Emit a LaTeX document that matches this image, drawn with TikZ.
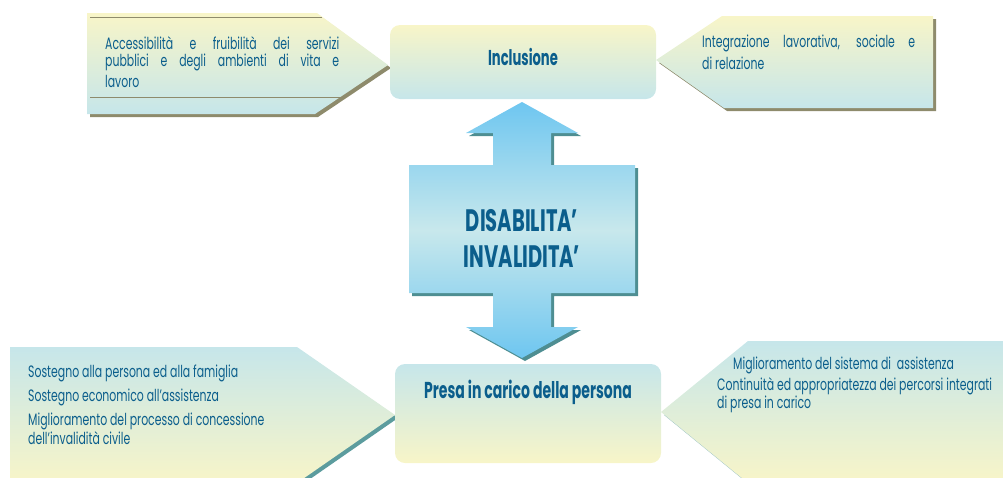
\documentclass[tikz,border=0pt]{standalone}
\usepackage{fontspec}
\setmainfont{Poppins}[FakeStretch=0.66]
\newfontfamily\titlefont{Poppins}[FakeStretch=0.61]
\newfontfamily\bigfont{Poppins}[FakeStretch=0.63]
\definecolor{cyel}{HTML}{F8F5C8}
\definecolor{ccya}{HTML}{C6E6EA}
\definecolor{ctxt}{HTML}{0B5E8C}
\definecolor{colive}{HTML}{8E8B6C}
\definecolor{cteal}{HTML}{5C9C9E}
\definecolor{ablue}{HTML}{6EC6F0}
\definecolor{apale}{HTML}{C8E8EC}
\definecolor{ashad}{HTML}{4E8E92}
\tikzset{
  txt/.style={anchor=west, inner sep=0pt, text=ctxt, font=\fontsize{16.5}{18}\selectfont},
  ttl/.style={inner sep=0pt, text=ctxt, font=\titlefont\bfseries\fontsize{21.5}{24}\selectfont},
  ttlb/.style={inner sep=0pt, text=ctxt, font=\titlefont\bfseries\fontsize{23}{26}\selectfont},
  big/.style={inner sep=0pt, text=ctxt, align=center, font=\bigfont\bfseries\fontsize{31}{36}\selectfont},
  ydown/.style={top color=cyel, bottom color=ccya},
  yup/.style={top color=ccya, bottom color=cyel},
}
\begin{document}
\begin{tikzpicture}[x=1pt,y=-1pt]
\useasboundingbox (0,0) rectangle (1003,477);
\begin{scope}
\clip (0,0) rectangle (1003,477);
% top-left pentagon
\fill[colive] (90,16) -- (320,16) -- (391,68) -- (318,117) -- (90,117) -- cycle;
\shade[ydown] (87,13) -- (317,13) -- (388,65) -- (315,114) -- (87,114) -- cycle;
\draw[colive, line width=0.8pt] (90,17) -- (322,17);
\draw[colive, line width=0.8pt] (90,97) -- (341,97);
% top-right pentagon
\fill[colive] (659,63) -- (725,19) -- (936,19) -- (936,111) -- (727,111) -- cycle;
\shade[ydown] (656,60) -- (722,16) -- (933,16) -- (933,108) -- (724,108) -- cycle;
% bottom-left pentagon
\fill[cteal] (13,350) -- (300,350) -- (398,418) -- (300,486) -- (13,486) -- cycle;
\shade[yup] (10,347) -- (297,347) -- (395,415) -- (297,483) -- (10,483) -- cycle;
% bottom-right pentagon
\fill[cteal!60] (664,415) -- (751,344) -- (1010,344) -- (1010,490) -- (751,486) -- cycle;
\shade[yup] (661,412) -- (748,341) -- (1010,341) -- (1010,483) -- (748,483) -- cycle;
% central double arrow
\fill[ashad] (525,105) -- (581,136) -- (554,136) -- (554,168) -- (638,168) -- (638,296) -- (554,296) -- (554,330) -- (581,330) -- (525,361) -- (469,330) -- (496,330) -- (496,296) -- (412,296) -- (412,168) -- (496,168) -- (496,136) -- (469,136) -- cycle;
\shade[top color=ablue, bottom color=ablue, middle color=apale] (522,102) -- (578,133) -- (551,133) -- (551,165) -- (635,165) -- (635,293) -- (551,293) -- (551,327) -- (578,327) -- (522,358) -- (466,327) -- (493,327) -- (493,293) -- (409,293) -- (409,165) -- (493,165) -- (493,133) -- (466,133) -- cycle;
% boxes
\shade[ydown, rounded corners=10pt] (390,25) rectangle (656,99);
\shade[yup, rounded corners=10pt] (395,364) rectangle (661,463);
\end{scope}
% titles
\node[ttl] (incl) at (523,57) {Inclusione};
\node[ttlb] (presa) at (528,392) {Presa in carico della persona};
\node[big] (dis) at (522,238) {DISABILITA’\\INVALIDITA’};
% top-left text
\node[txt] (tl1) at (105,43) {\makebox[234pt][s]{Accessibilità e fruibilità dei servizi}};
\node[txt] (tl2) at (105,62) {\makebox[234pt][s]{pubblici e degli ambienti di vita e}};
\node[txt] (tl3) at (105,81) {lavoro};
% top-right text
\node[txt] (tr1) at (702,43) {\makebox[213pt][s]{Integrazione lavorativa, sociale e}};
\node[txt] (tr2) at (702,63) {di relazione};
% bottom-left text
\node[txt] (bl1) at (28,373) {Sostegno alla persona ed alla famiglia};
\node[txt] (bl2) at (28,397) {Sostegno economico all’assistenza};
\node[txt] (bl3) at (28,421) {Miglioramento del processo di concessione};
\node[txt] (bl4) at (28,438) {dell’invalidità civile};
% bottom-right text
\node[txt] (br1) at (733,365) {Miglioramento del sistema di \ assistenza};
\node[txt] (br2) at (717,386) {Continuità ed appropriatezza dei percorsi integrati};
\node[txt] (br3) at (717,404) {di presa in carico};
\end{tikzpicture}
\end{document}
